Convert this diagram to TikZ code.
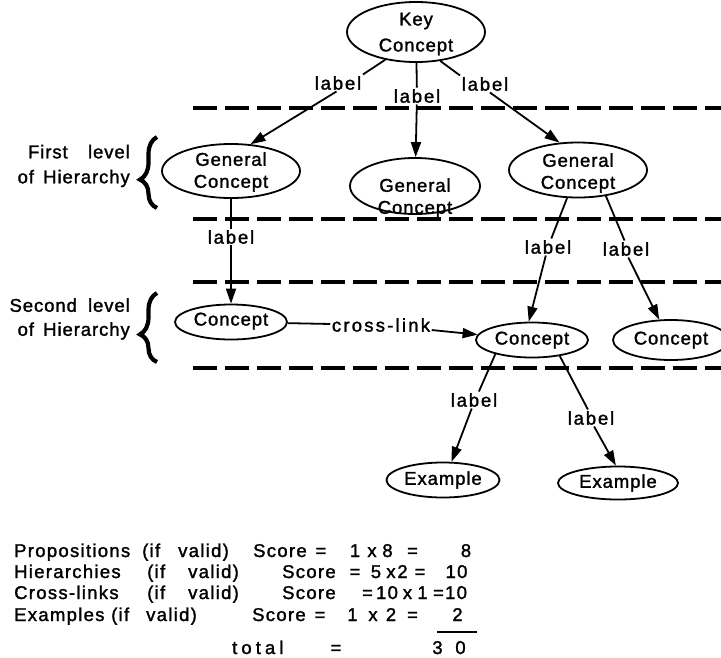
\documentclass[tikz,border=0pt]{standalone}
\usepackage{fontspec}
\setmainfont{Liberation Sans}
\newfontfamily\dfont[LetterSpace=5,FakeBold=1.5]{Liberation Sans}
\newfontfamily\lfont[LetterSpace=10,FakeBold=1.5]{Liberation Sans}
\newfontfamily\xfont[LetterSpace=12,FakeBold=1.5]{Liberation Sans}
\newfontfamily\bfont[LetterSpace=7,FakeBold=1.5]{Liberation Sans}
\newfontfamily\tfont[LetterSpace=22,FakeBold=1.5]{Liberation Sans}
\usetikzlibrary{shapes.geometric,arrows.meta,decorations.pathreplacing}
\begin{document}
\begin{tikzpicture}[x=1pt,y=-1pt,
  bub/.style 2 args={draw, ellipse, line width=1.8pt, inner sep=0pt, minimum width=#1, minimum height=#2},
  txt/.style={font=\dfont\fontsize{18.5}{22}\selectfont, align=center, inner sep=0pt},
  lab/.style={font=\lfont\fontsize{18.5}{21}\selectfont, inner sep=1.5pt},
  side/.style={font=\dfont\fontsize{18.5}{25}\selectfont, inner sep=0pt, anchor=east, align=right},
  con/.style={line width=1.8pt},
  arr/.style={line width=1.8pt, -{Triangle[length=15pt,width=10pt]}},
  lvl/.style={line width=3.4pt, dash pattern=on 24pt off 8pt},
  brc/.style={decorate, decoration={brace, amplitude=17pt, aspect=0.4}, line width=4.2pt},
  sc/.style={font=\bfont\fontsize{18.5}{21}\selectfont, inner sep=0pt, anchor=base west},
  scc/.style={font=\bfont\fontsize{18.5}{21}\selectfont, inner sep=0pt, anchor=base},
]
\useasboundingbox (0,0) rectangle (721,657);
\clip (0,0) rectangle (721,657);

% level lines
\draw[lvl] (193,108) -- (725,108);
\draw[lvl] (193,219) -- (725,219);
\draw[lvl] (193,282) -- (725,282);
\draw[lvl] (193,368) -- (725,368);

% braces and level texts
\draw[brc] (157,208) -- (157,137);
\draw[brc] (157,362) -- (157,293);
\node[side] (lv1) at (130,166) {First\hspace{1.1em}level\\of\hspace{0.5em}Hierarchy};
\node[side, font=\dfont\fontsize{18.5}{24}\selectfont] (lv2) at (130,319) {Second\hspace{0.6em}level\\of\hspace{0.5em}Hierarchy};

% concept ellipses
\node[bub={138}{60}] (key) at (416,32) {};
\node[txt, font=\dfont\fontsize{18.5}{26}\selectfont] (keyt) at (416,34) {Key\\Concept};
\node[bub={138}{54}] (gc1) at (231,171) {};
\node[txt] (gc1t) at (231,172) {General\\Concept};
\node[bub={130}{56}] (gc2) at (415,186) {};
\node[txt] (gc2t) at (415,198) {General\\Concept};
\node[bub={138}{55}] (gc3) at (578,170) {};
\node[txt] (gc3t) at (578,173) {General\\Concept};
\node[bub={112}{35}] (c1) at (231,322) {};
\node[txt] (c1t) at (231,321) {Concept};
\node[bub={112}{35}] (c2) at (532,340) {};
\node[txt] (c2t) at (532,340) {Concept};
\node[bub={116}{40}] (c3) at (671,340) {};
\node[txt] (c3t) at (671,340) {Concept};
\node[bub={113}{35}] (ex1) at (443,480) {};
\node[txt] (ex1t) at (443,480) {Example};
\node[bub={120}{33}] (ex2) at (618,483) {};
\node[txt] (ex2t) at (618,483) {Example};

% labels
\node[lab] (la) at (338,83) {label};
\node[lab] (lb) at (417,96) {label};
\node[lab] (lc) at (485,84) {label};
\node[lab] (ld) at (231,237) {label};
\node[lab] (le) at (548,247) {label};
\node[lab] (lf) at (626,249) {label};
\node[lab] (lg) at (474,400) {label};
\node[lab] (lh) at (591,418) {label};
\node[lab, font=\xfont\fontsize{18.5}{21}\selectfont] (cross) at (381,325) {cross-link};

% connectors
\draw[con] (key.222) -- (la.north east);
\draw[arr] (la.260) -- (gc1.54);
\draw[con] (key) -- (lb);
\draw[arr] (lb) -- (gc2);
\draw[con] (key.310) -- (lc.north west);
\draw[arr] (lc.300) -- (gc3.124);
\draw[con] (gc1) -- (ld);
\draw[arr] (ld) -- (c1);
\draw[con] (gc3) -- (le);
\draw[arr] (le) -- (c2.100);
\draw[con] (gc3.317) -- (lf.100);
\draw[arr] (lf.285) -- (c3.120);
\draw[con] (c1) -- (cross);
\draw[arr] (cross) -- (c2);
\draw[con] (c2.201) -- (lg.60);
\draw[arr] (lg.255) -- (ex1.65);
\draw[con] (c2.330) -- (lh.110);
\draw[arr] (lh.290) -- (ex2.97);

% scoring
\node[sc] (r1a) at (14,557) {Propositions};
\node[sc] (r1b) at (142,557) {(if};
\node[sc] (r1c) at (178,557) {valid)};
\node[sc] (r1d) at (253,557) {Score};
\node[scc] (r1e) at (321,557) {=};
\node[scc] (r1f) at (355,557) {1};
\node[scc] (r1g) at (372,557) {x};
\node[scc] (r1h) at (387.5,557) {8};
\node[scc] (r1i) at (412.5,557) {=};
\node[scc] (r1j) at (466,557) {8};

\node[sc] (r2a) at (14,578) {Hierarchies};
\node[sc] (r2b) at (147,578) {(if};
\node[sc] (r2c) at (188,578) {valid)};
\node[sc] (r2d) at (282,578) {Score};
\node[scc] (r2e) at (355,578) {=};
\node[scc] (r2f) at (376,578) {5};
\node[scc] (r2g) at (391,578) {x};
\node[scc] (r2h) at (402.5,578) {2};
\node[scc] (r2i) at (420,578) {=};
\node[scc] (r2j) at (456.5,578) {10};

\node[sc] (r3a) at (14,599) {Cross-links};
\node[sc] (r3b) at (147,599) {(if};
\node[sc] (r3c) at (188,599) {valid)};
\node[sc] (r3d) at (282,599) {Score};
\node[scc] (r3e) at (367.5,599) {=};
\node[scc] (r3f) at (387,599) {10};
\node[scc] (r3g) at (407.5,599) {x};
\node[scc] (r3h) at (422.5,599) {1};
\node[scc] (r3i) at (450,599) {=10};

\node[sc] (r4a) at (14,621) {Examples};
\node[sc] (r4b) at (111,621) {(if};
\node[sc] (r4c) at (146,621) {valid)};
\node[sc] (r4d) at (252,621) {Score};
\node[scc] (r4e) at (320,621) {=};
\node[scc] (r4f) at (352.5,621) {1};
\node[scc] (r4g) at (373,621) {x};
\node[scc] (r4h) at (391,621) {2};
\node[scc] (r4i) at (412.5,621) {=};
\node[scc] (r4j) at (457.5,621) {2};
\draw[line width=1.8pt] (437,632) -- (477,632);

\node[sc, font=\tfont\fontsize{18.5}{21}\selectfont] (r5a) at (232,654) {total};
\node[scc] (r5b) at (336,654) {=};
\node[scc] (r5c) at (437.5,654) {3};
\node[scc] (r5d) at (460.5,654) {0};
\end{tikzpicture}
\end{document}
